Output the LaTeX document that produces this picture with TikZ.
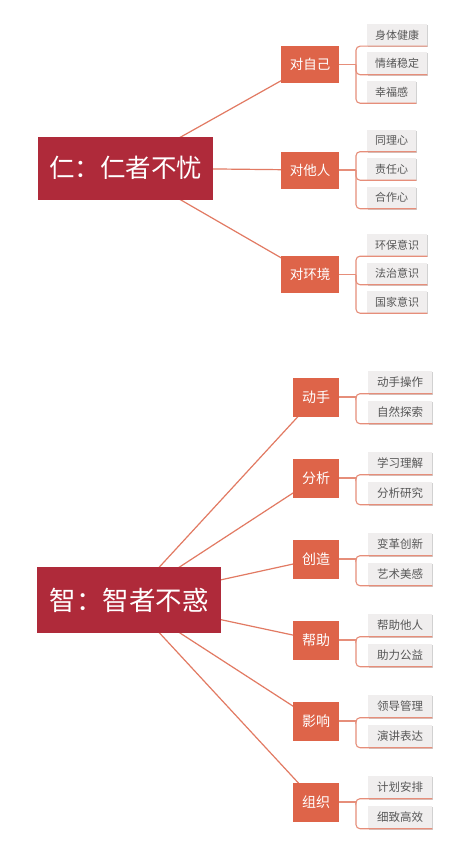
\documentclass[tikz,border=0pt]{standalone}
\usepackage{fontspec}
\setmainfont{Noto Sans CJK SC}
\usetikzlibrary{backgrounds,shadows}
\definecolor{rootred}{HTML}{AF2A3A}
\definecolor{midor}{HTML}{DE6449}
\definecolor{linec}{HTML}{E27A63}
\definecolor{leaff}{HTML}{F0EEEE}
\definecolor{leaft}{HTML}{575757}
\tikzset{
  rootbox/.style={fill=rootred, text=white, inner sep=0pt},
  midbox/.style={fill=midor, text=white, font=\fontsize{13.5}{16}\selectfont, inner sep=0pt},
  leafbox/.style={fill=leaff, text=leaft, font=\fontsize{11}{13}\selectfont, inner sep=0pt, anchor=west,
     drop shadow={shadow xshift=1pt, shadow yshift=-1pt, fill=black!18, opacity=1}},
  lowleaf/.style={leafbox, font=\fontsize{11.5}{13}\selectfont},
  conn/.style={draw=linec, line width=1.2pt},
  brk/.style={draw=linec!85, line width=1.1pt, rounded corners=4pt},
}
\begin{document}
\begin{tikzpicture}[x=1pt,y=-1pt]
\useasboundingbox (0,0) rectangle (461,843);
% ---------- upper tree ----------
\node[rootbox, font=\fontsize{25.5}{30}\selectfont, minimum width=175pt, minimum height=63pt] (r1) at (125.5,168) {仁：仁者不忧};
\node[midbox, minimum width=58pt, minimum height=37pt] (a1) at (310,64.5) {对自己};
\node[midbox, minimum width=58pt, minimum height=37pt] (a2) at (310,170) {对他人};
\node[midbox, minimum width=58pt, minimum height=37pt] (a3) at (310,274.5) {对环境};
\node[leafbox, minimum width=60pt, minimum height=22pt] (a11) at (367,35) {身体健康};
\node[leafbox, minimum width=60pt, minimum height=22pt] (a12) at (367,63.5) {情绪稳定};
\node[leafbox, minimum width=49pt, minimum height=22pt] (a13) at (367,92) {幸福感};
\node[leafbox, minimum width=49pt, minimum height=22pt] (a21) at (367,140.5) {同理心};
\node[leafbox, minimum width=49pt, minimum height=22pt] (a22) at (367,169) {责任心};
\node[leafbox, minimum width=49pt, minimum height=22pt] (a23) at (367,197.5) {合作心};
\node[leafbox, minimum width=60pt, minimum height=22pt] (a31) at (367,245) {环保意识};
\node[leafbox, minimum width=60pt, minimum height=22pt] (a32) at (367,273.5) {法治意识};
\node[leafbox, minimum width=60pt, minimum height=22pt] (a33) at (367,302) {国家意识};
% ---------- lower tree ----------
\node[rootbox, font=\fontsize{26.5}{30}\selectfont, minimum width=184pt, minimum height=66pt] (r2) at (129,600) {智：智者不惑};
\foreach \n/\t/\y in {b1/动手/397, b2/分析/478, b3/创造/559, b4/帮助/640, b5/影响/721, b6/组织/802}
  \node[midbox, font=\fontsize{14}{16}\selectfont, minimum width=46pt, minimum height=39pt] (\n) at (316,\y) {\t};
\foreach \n/\t/\y in {b11/动手操作/382, b12/自然探索/412, b21/学习理解/463, b22/分析研究/493,
  b31/变革创新/544, b32/艺术美感/574, b41/帮助他人/625, b42/助力公益/655,
  b51/领导管理/706, b52/演讲表达/736, b61/计划安排/787, b62/细致高效/817}
  \node[lowleaf, minimum width=64pt, minimum height=23pt] (\n) at (368,\y) {\t};
% ---------- connectors ----------
\begin{scope}[on background layer]
  \fill[white] (0,0) rectangle (461,843);
  \foreach \m in {a1,a2,a3} \draw[conn] (r1.center) -- (\m.center);
  \foreach \m in {b1,b2,b3,b4,b5,b6} \draw[conn] (r2.center) -- (\m.center);
\end{scope}
\foreach \p in {a1,a2,a3} {
  \coordinate (j\p) at (356,0 |- \p.center);
  \draw[brk] (\p.east) -- (j\p);
  \foreach \k in {1,2,3} \draw[brk] (j\p) |- (\p\k.south east);
}
\foreach \p in {b1,b2,b3,b4,b5,b6} {
  \coordinate (j\p) at (356,0 |- \p.center);
  \draw[brk] (\p.east) -- (j\p);
  \foreach \k in {1,2} \draw[brk] (j\p) |- (\p\k.south east);
}
\end{tikzpicture}
\end{document}
